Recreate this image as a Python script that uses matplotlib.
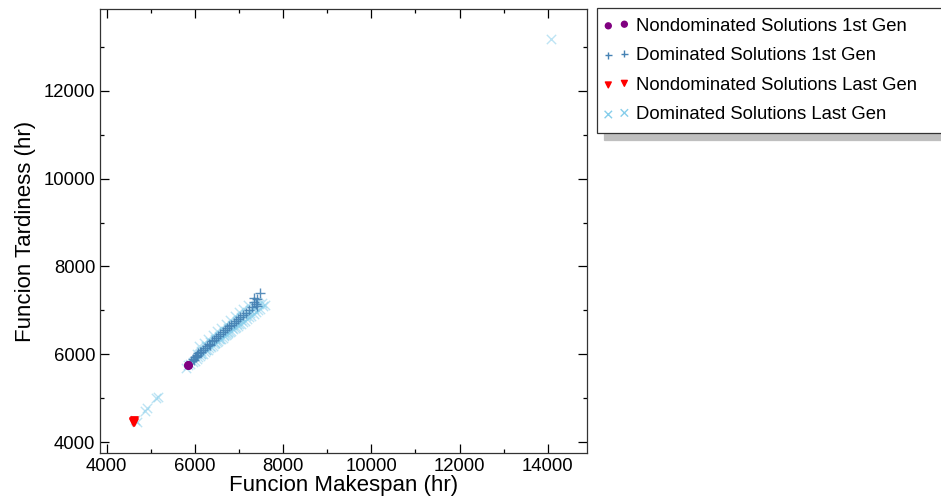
import matplotlib
matplotlib.use("Agg")
import matplotlib.pyplot as plt
from matplotlib.legend_handler import HandlerPathCollection
import numpy as np

plt.rcParams['font.family'] = ['Liberation Sans', 'DejaVu Sans']

# non dominated, first generation (makespan, tardiness)
nd_first_x = [5843, 5850]
nd_first_y = [5759, 5752]

# dominated, first generation
d_first_x = [5960, 6000, 6040, 6080, 6120, 6180, 6230, 6280, 6330, 6380, 6430, 6480,
             6530, 6580, 6630, 6680, 6730, 6780, 6830, 6880, 6930, 6980, 7030, 7080,
             7150, 7230, 7300, 7330, 7380, 7400, 7420, 7478, 7350, 6050, 6150, 6350,
             5910, 5990, 6020]
d_first_y = [5900, 5950, 5990, 6030, 6060, 6110, 6150, 6200, 6240, 6300, 6330, 6380,
             6420, 6470, 6510, 6550, 6600, 6640, 6680, 6720, 6770, 6800, 6850, 6890,
             6950, 7020, 7080, 7200, 7150, 7250, 7100, 7404, 7280, 5960, 6050, 6220,
             5840, 5880, 5930]

# non dominated, last generation
nd_last_x = [4590, 4610, 4600, 4620]
nd_last_y = [4485, 4500, 4470, 4460]

# dominated, last generation
d_last_x = [14080, 4640, 4680, 4910, 4870, 5130, 5160,
            5800, 5850, 5900, 5960, 6000, 6040, 6080, 6120, 6150, 6190, 6230, 6260,
            6300, 6330, 6360, 6400, 6430, 6460, 6500, 6530, 6560, 6600, 6630, 6660,
            6700, 6730, 6760, 6800, 6830, 6860, 6900, 6940, 6980, 7010, 7050, 7090,
            7130, 7180, 7230, 7280, 7330, 7380, 7430, 7480, 7540, 7590,
            6050, 6150, 6250, 6350, 6450, 6550, 6650, 6750, 6850, 6950, 7050, 7150,
            7250, 7350, 7450, 7400, 7520,
            6100, 6200, 6300, 6400, 6500, 6600, 6700, 6800, 6900, 7000, 7100, 7200,
            6150, 6250, 6350, 6450, 6550, 6650, 6750, 6850, 6950, 7050, 7150, 7250, 7350]
d_last_y = [13170, 4500, 4470, 4770, 4720, 5000, 5030,
            5690, 5750, 5775, 5830, 5860, 5900, 5940, 5960, 6000, 6020, 6060, 6100,
            6110, 6150, 6170, 6200, 6240, 6250, 6290, 6300, 6340, 6360, 6380, 6420,
            6430, 6470, 6480, 6520, 6540, 6570, 6590, 6630, 6650, 6690, 6700, 6740,
            6760, 6800, 6840, 6880, 6910, 6960, 7000, 7040, 7090, 7130,
            6000, 6080, 6180, 6280, 6350, 6420, 6520, 6600, 6680, 6760, 6850, 6920,
            7000, 7080, 7150, 7200, 7180,
            6180, 6270, 6360, 6440, 6530, 6610, 6700, 6790, 6870, 6960, 7040, 7130,
            6000, 6090, 6180, 6260, 6350, 6440, 6520, 6610, 6690, 6780, 6870, 6950, 7040]

labels = ["Nondominated Solutions 1st Gen", "Dominated Solutions 1st Gen",
          "Nondominated Solutions Last Gen", "Dominated Solutions Last Gen"]

fig = plt.figure(figsize=(9.41, 5.04), dpi=100)
ax = fig.add_axes([0.1063, 0.1006, 0.5175, 0.8809])

ax.scatter(d_last_x, d_last_y, marker='x', s=45, color='skyblue', alpha=0.55,
           linewidths=1.0, label=labels[3], zorder=2)
ax.scatter(d_first_x, d_first_y, marker='+', s=45, color='steelblue', alpha=0.9,
           linewidths=1.0, label=labels[1], zorder=3)
ax.scatter(nd_first_x, nd_first_y, marker='o', s=28, color='purple',
           label=labels[0], zorder=4)
ax.scatter(nd_last_x, nd_last_y, marker='v', s=28, color='red',
           label=labels[2], zorder=4)

ax.set_xlim(3850, 14890)
ax.set_ylim(3750, 13850)
ax.set_xticks(np.arange(4000, 14001, 2000))
ax.set_yticks(np.arange(4000, 12001, 2000))
ax.set_xticks(np.arange(5000, 14001, 2000), minor=True)
ax.set_yticks(np.arange(5000, 13001, 2000), minor=True)
ax.tick_params(which='both', direction='in', top=True, right=True,
               labelsize=13.3, colors='black')
ax.tick_params(which='major', length=6.5, width=0.9)
ax.tick_params(which='minor', length=3, width=0.9)
for sp in ax.spines.values():
    sp.set_linewidth(0.9)
    sp.set_color('#333333')

ax.set_xlabel("Funcion Makespan (hr)", fontsize=16, labelpad=0)
ax.set_ylabel("Funcion Tardiness (hr)", fontsize=16, labelpad=5)

# legend sits to the right of the axes and runs off the figure edge
h, l = ax.get_legend_handles_labels()
order = [l.index(t) for t in labels]
hmap = {hh: HandlerPathCollection(marker_pad=0.1) for hh in h}
leg = ax.legend([h[i] for i in order], [l[i] for i in order],
                loc='upper left', bbox_to_anchor=(1.021, 0, 0.72, 1.002),
                mode='expand',
                fontsize=13.3, scatterpoints=2, markerscale=0.8,
                frameon=True, fancybox=False, borderaxespad=0,
                labelspacing=0.68, handlelength=1.07, handletextpad=0.55,
                borderpad=0.5, handler_map=hmap,
                shadow={'ox': 5, 'oy': -5, 'color': '0.75', 'alpha': 1})
leg.get_frame().set_edgecolor('#333333')
leg.get_frame().set_linewidth(0.9)
for lh in leg.legend_handles:
    lh.set_alpha(1)

fig.savefig("out.png", dpi=100)
